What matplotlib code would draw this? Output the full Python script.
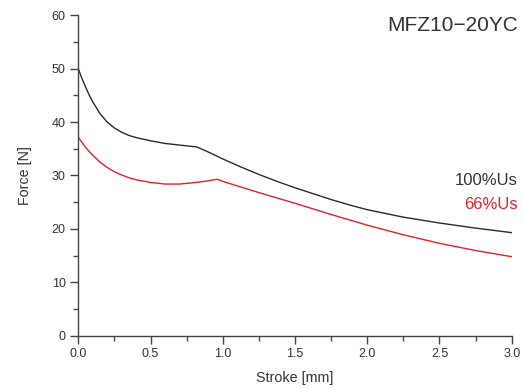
import matplotlib
matplotlib.use("Agg")
import matplotlib.pyplot as plt
from matplotlib.ticker import MultipleLocator

plt.rcParams['font.family'] = ['Liberation Sans', 'DejaVu Sans']

# Force-stroke curves
stroke_100 = [0.0, 0.025, 0.05, 0.075, 0.1, 0.15, 0.2, 0.25, 0.3, 0.35, 0.4,
              0.5, 0.6, 0.7, 0.82, 0.9, 1.0, 1.125, 1.25, 1.375, 1.5, 1.625,
              1.75, 1.875, 2.0, 2.25, 2.5, 2.75, 3.0]
force_100 = [50.0, 48.2, 46.6, 45.1, 43.8, 41.6, 40.0, 38.9, 38.1, 37.5, 37.1,
             36.5, 36.0, 35.7, 35.35, 34.4, 33.1, 31.6, 30.2, 28.9, 27.7, 26.6,
             25.5, 24.5, 23.6, 22.2, 21.1, 20.15, 19.3]

stroke_66 = [0.0, 0.025, 0.05, 0.075, 0.1, 0.15, 0.2, 0.25, 0.3, 0.35, 0.4,
             0.5, 0.6, 0.7, 0.8, 0.9, 0.96, 1.0, 1.25, 1.5, 1.75, 2.0, 2.25,
             2.5, 2.75, 3.0]
force_66 = [37.2, 36.2, 35.3, 34.5, 33.8, 32.5, 31.5, 30.7, 30.1, 29.6, 29.2,
            28.7, 28.4, 28.4, 28.65, 29.0, 29.3, 28.9, 26.8, 24.8, 22.7, 20.7,
            18.9, 17.3, 15.95, 14.8]

x_ticks = [0.0, 0.5, 1.0, 1.5, 2.0, 2.5, 3.0]
y_ticks = [0, 10, 20, 30, 40, 50, 60]

text_color = '#333333'
red = '#e8202a'

fig = plt.figure(figsize=(5.23, 3.89), dpi=100)
ax = fig.add_axes([0.1497, 0.137, 0.8287, 0.8237])

ax.plot(stroke_100, force_100, color='#2a2a2a', lw=1.0)
ax.plot(stroke_66, force_66, color=red, lw=1.0)

ax.set_xlim(0, 3.0)
ax.set_ylim(0, 60)
ax.set_xticks(x_ticks)
ax.set_yticks(y_ticks)
ax.set_xticklabels([f'{v:.1f}' for v in x_ticks])
ax.xaxis.set_minor_locator(MultipleLocator(0.25))
ax.yaxis.set_minor_locator(MultipleLocator(5))

for side in ['top', 'right']:
    ax.spines[side].set_visible(False)
for side in ['left', 'bottom']:
    ax.spines[side].set_color('#444444')
    ax.spines[side].set_linewidth(1.0)

ax.tick_params(which='major', length=6, width=1.0, color='#444444',
               labelsize=9, labelcolor=text_color, pad=3)
ax.tick_params(which='minor', length=3.5, width=1.0, color='#444444')

ax.set_xlabel('Stroke [mm]', fontsize=10.3, color=text_color, labelpad=8)
ax.set_ylabel('Force [N]', fontsize=10.3, color=text_color, labelpad=14)

ax.text(1.014, 0.952, 'MFZ10\u221220YC', transform=ax.transAxes,
        ha='right', va='baseline', fontsize=15, color=text_color)
ax.text(1.014, 0.470, '100%Us', transform=ax.transAxes,
        ha='right', va='baseline', fontsize=12, color=text_color)
ax.text(1.014, 0.394, '66%Us', transform=ax.transAxes,
        ha='right', va='baseline', fontsize=12, color=red)

fig.savefig('out.png', dpi=100)
